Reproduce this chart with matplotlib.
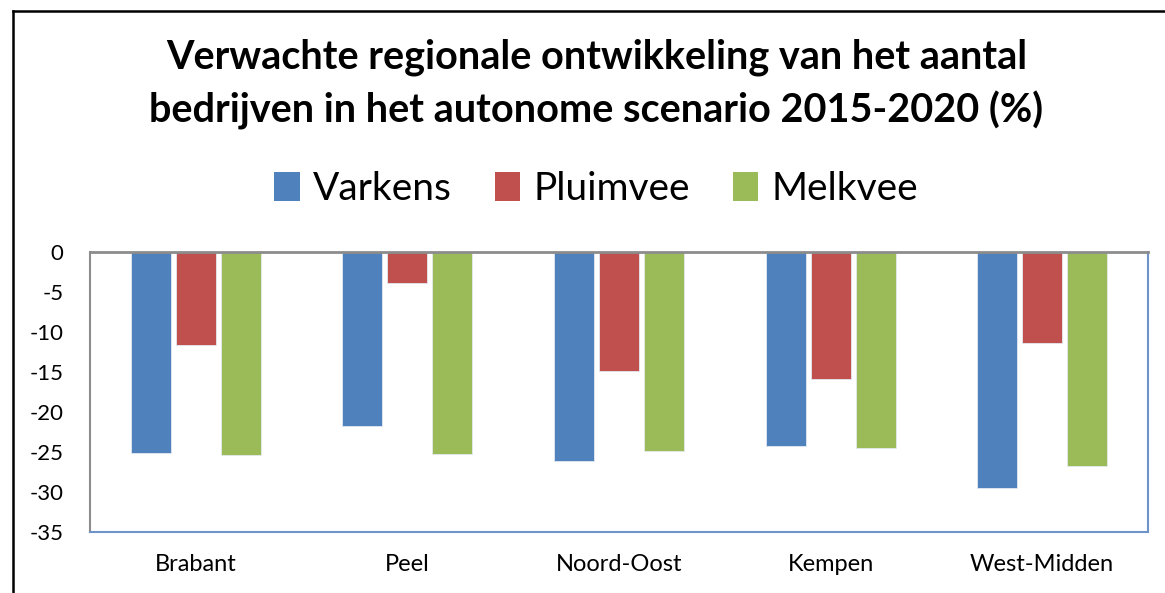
import numpy as np
import matplotlib.pyplot as plt
from matplotlib.patches import Patch
from matplotlib.lines import Line2D

# data (% change 2015-2020)
regios = ['Brabant', 'Peel', 'Noord-Oost', 'Kempen', 'West-Midden']
varkens = [-25.1, -21.7, -26.1, -24.2, -29.5]
pluimvee = [-11.6, -3.8, -14.8, -15.9, -11.4]
melkvee = [-25.4, -25.2, -24.9, -24.5, -26.7]
series_names = ['Varkens', 'Pluimvee', 'Melkvee']
kleuren = ['#4F81BD', '#C0504D', '#9BBB59']
yticks = [0, -5, -10, -15, -20, -25, -30, -35]
titel_regels = ['Verwachte regionale ontwikkeling van het aantal',
                'bedrijven in het autonome scenario 2015-2020 (%)']

plt.rcParams['font.family'] = ['Lato', 'DejaVu Sans']

W, H = 1165, 593
fig = plt.figure(figsize=(W / 100, H / 100), dpi=100)
ax = fig.add_axes([90 / W, 1 - 532 / H, (1148 - 90) / W, (532 - 252.3) / H])

x = np.arange(len(regios))
breedte = 0.189
stap = 0.2127
for i, (vals, kleur) in enumerate(zip([varkens, pluimvee, melkvee], kleuren)):
    ax.bar(x + (i - 1) * stap, vals, width=breedte, color=kleur,
           edgecolor='#E4E9F0', linewidth=0.6)

ax.set_xlim(-0.5, len(regios) - 0.5)
ax.set_ylim(-35, 0)
ax.set_yticks(yticks)
ax.set_yticklabels([str(t) for t in yticks], fontsize=16)
ax.set_xticks(x)
ax.set_xticklabels(regios, fontsize=17)
ax.tick_params(axis='y', length=0, pad=19)
ax.tick_params(axis='x', length=0, pad=16)

ax.spines['left'].set_color('#8C8C8C')
ax.spines['top'].set_color('#8C8C8C')
ax.spines['top'].set_linewidth(2)
ax.spines['left'].set_linewidth(1.5)
ax.spines['right'].set_color('#6E93C8')
ax.spines['bottom'].set_color('#6E93C8')
ax.spines['right'].set_linewidth(1.5)
ax.spines['bottom'].set_linewidth(1.5)

# title, two lines placed on their baselines
for regel, basis in zip(titel_regels, [68, 123]):
    fig.text(0.512, 1 - basis / H, regel, ha='center', va='baseline',
             fontsize=28.5, fontweight='bold')

handles = [Patch(facecolor=k, edgecolor='none') for k in kleuren]
fig.legend(handles, series_names, loc='center', bbox_to_anchor=(0.512, 1 - 189 / H),
           ncol=3, frameon=False, fontsize=28, handlelength=0.65, handleheight=0.75,
           handletextpad=0.35, columnspacing=1.1)

# outer chart frame (left and top edges visible)
fig.add_artist(Line2D([13 / W, 13 / W], [0, 1 - 11 / H], color='black', lw=1.8,
                      transform=fig.transFigure))
fig.add_artist(Line2D([13 / W, 1], [1 - 11 / H, 1 - 11 / H], color='black', lw=1.8,
                      transform=fig.transFigure))

fig.savefig('out.png', dpi=100)
